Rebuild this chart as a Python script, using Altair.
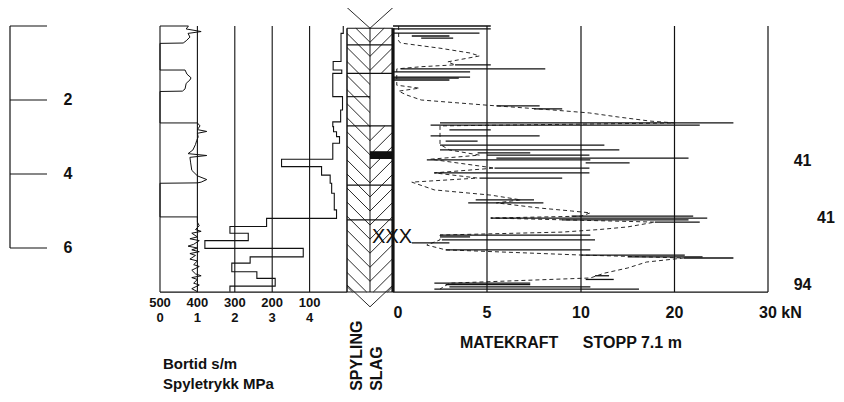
import altair as alt
import pandas as pd

FONT = "Liberation Sans"
W, H = 828, 386

# ---------------- data ----------------
depth_ticks = [0, 2, 4, 6]
depth_tick_labels = ["", "2", "4", "6"]

# Bortid (s/m), step profile: depth where each step starts, value
bortid_depth = [0.00, 0.20, 0.96, 1.19, 1.28, 1.91, 2.27, 2.59, 2.72, 2.86, 2.99, 3.17, 3.60, 3.80,
                4.03, 4.25, 4.52, 4.97, 5.20, 5.42, 5.60, 5.80, 6.01, 6.24, 6.41, 6.64, 6.82, 7.03, 7.18]
bortid_val = [10, 16, 37, 14, 38, 12, 17, 38, 36, 28, 20, 38, 175, 68,
              45, 41, 34, 28, 215, 313, 264, 380, 117, 259, 308, 241, 192, 313, 313]

# Spyletrykk (MPa)
spy_depth = [0.00, 0.00, 0.08, 0.15, 0.20, 0.30, 0.40, 0.46, 0.47,
             1.19, 1.19, 1.30, 1.40, 1.46, 1.55, 1.70, 1.76, 1.77,
             2.62, 2.62, 2.70, 2.80, 2.85, 2.90, 3.00, 3.10, 3.20, 3.35, 3.45, 3.50, 3.55, 3.70, 3.90,
             4.05, 4.15, 4.22, 4.24, 4.25,
             5.16, 5.16, 5.30, 5.40, 5.50, 5.55, 5.60, 5.70, 5.75, 5.80, 5.90, 5.95, 6.00, 6.05, 6.10,
             6.15, 6.20, 6.30, 6.35, 6.45, 6.50, 6.60, 6.70, 6.75, 6.80, 6.85, 6.95, 7.00, 7.10, 7.18]
spy_val = [0, 0.76, 0.70, 1.10, 0.75, 0.80, 0.70, 0.62, 0,
           0, 0.67, 0.72, 0.83, 0.80, 0.70, 0.67, 0.60, 0,
           0, 1.00, 1.07, 1.00, 1.25, 1.00, 1.02, 0.98, 0.95, 0.88, 0.75, 1.25, 0.80, 0.82, 0.85,
           1.00, 1.25, 1.10, 1.00, 0,
           0, 1.00, 1.00, 1.05, 0.95, 1.10, 0.85, 1.00, 0.80, 1.05, 0.90, 0.75, 1.00, 0.85, 1.05,
           0.80, 0.95, 0.80, 1.00, 0.90, 1.05, 0.85, 0.95, 1.10, 0.85, 1.00, 0.90, 1.05, 0.85, 1.00]

# Matekraft (kN): base trace and spikes
base_depth = [0.00, 0.40, 0.46, 0.60, 0.73, 0.81, 0.97, 1.05, 1.10, 1.16, 1.60, 1.68, 1.76, 1.86, 2.00,
              2.14, 2.27, 2.35, 2.46, 2.57, 2.62, 2.70, 3.20, 3.35, 3.49, 3.60, 3.84, 3.97, 4.11, 4.22,
              4.43, 4.57, 4.70, 4.78, 4.92, 5.00, 5.05, 5.14, 5.19, 5.30, 5.43, 5.50, 5.57, 5.65, 5.78,
              5.92, 6.05, 6.19, 6.27, 6.38, 6.54, 6.68, 6.81, 6.95, 7.11]
base_kn = [0.3, 0.3, 0.4, 2.5, 4.1, 4.6, 2.9, 3.3, 1.5, 0.2, 0.2, 1.4, 0.3, 0.7, 1.5,
           5.0, 8.5, 10.9, 14.0, 17.4, 20.0, 2.5, 2.5, 3.0, 4.6, 2.0, 5.4, 2.2, 4.5, 1.0,
           2.2, 5.2, 6.8, 5.5, 7.8, 9.5, 11.0, 10.0, 5.2, 17.9, 15.0, 12.0, 9.0, 2.5, 2.5,
           1.8, 2.8, 10.0, 21.0, 17.0, 15.0, 12.5, 11.0, 3.0, 2.5]

spike_depth = [0.00, 0.08, 0.19, 0.27, 0.33, 1.05, 1.16, 1.24, 1.38, 1.41, 1.46, 2.16, 2.24, 2.62, 2.68,
               2.81, 2.97, 3.11, 3.22, 3.35, 3.43, 3.49, 3.57, 3.62, 3.70, 3.84, 3.97, 4.11, 4.70, 4.78,
               5.14, 5.19, 5.24, 5.30, 5.65, 5.70, 5.78, 5.86, 6.05, 6.19, 6.24, 6.27, 6.75, 6.85, 6.95,
               6.99, 7.05, 7.11]
spike_from = [0, 0, 0, 1.0, 1.5, 3.3, 0.4, 0, 0, 0, 0, 5.5, 7.5, 2.5, 2.0,
              3.0, 2.0, 2.8, 2.5, 2.5, 4.5, 5.0, 5.5, 1.8, 10.5, 5.4, 2.2, 4.6, 4.4, 4.0,
              9.5, 5.2, 9.0, 17.9, 2.5, 2.5, 2.6, 1.0, 2.8, 10.0, 15.0, 21.0, 11.5, 10.5, 2.2,
              2.8, 3.0, 2.2]
spike_to = [5.2, 5.2, 4.6, 3.0, 3.2, 5.2, 8.1, 4.1, 4.1, 3.5, 3.0, 7.8, 9.0, 26.3, 22.7,
            5.2, 7.8, 4.5, 12.5, 14.1, 7.3, 10.9, 21.5, 11.0, 15.2, 10.9, 10.9, 9.0, 7.5, 8.0,
            22.0, 23.5, 21.5, 22.7, 11.0, 4.1, 11.5, 3.0, 11.0, 21.1, 23.0, 26.3, 13.0, 13.5, 7.3,
            7.3, 11.0, 16.2]

# Column (SPYLING / SLAG)
col_top, col_bot = 0.06, 7.19
full_layer_lines = [0.06, 0.51, 1.28, 2.70, 4.30, 5.24, 7.19]
spyling_lines = [1.91]
slag_lines = [3.40, 3.58]
slag_from = [0.06, 2.70, 3.58]
slag_to = [1.28, 3.40, 7.19]
band_from, band_to = [3.40], [3.58]

# Axis labels
bortid_ticks = [500, 400, 300, 200, 100]
spy_ticks = [0, 1, 2, 3, 4]
kn_ticks = [5, 10, 20]

blow_depth = [3.65, 5.19, 7.00]
blow_pos = [33.7, 36.2, 33.7]
blow_text = ["41", "41", "94"]

# ---------------- scales ----------------
def S(domain, rng):
    return alt.Scale(domain=domain, range=rng, zero=False, nice=False)

YS = S([0, 7.2], [18, 284.4])
BORT = S([500, 0], [152, 339])
SPY = S([0, 5], [152, 339])
COL = S([0, 2], [339, 385])
KN = S([0, 10, 30], [385, 573, 760])


def yq(f):
    return alt.Y(f"{f}:Q", scale=YS, axis=None)


def xq(f, sc):
    return alt.X(f"{f}:Q", scale=sc, axis=None)


BLACK = "#111111"
layers = []

# depth scale
layers.append(alt.Chart(pd.DataFrame({"d0": [depth_ticks[0]], "d1": [depth_ticks[-1]]}))
              .mark_rule(color=BLACK, strokeWidth=1.2)
              .encode(x=alt.value(2), y=yq("d0"), y2="d1"))
dt = pd.DataFrame({"d": depth_ticks, "t": depth_tick_labels})
layers.append(alt.Chart(dt).mark_rule(color=BLACK, strokeWidth=1.2)
              .encode(x=alt.value(2), x2=alt.value(39), y=yq("d")))
layers.append(alt.Chart(dt).mark_text(font=FONT, fontSize=16, fontWeight="bold", color=BLACK)
              .encode(x=alt.value(60), y=yq("d"), text="t:N"))

# left panel grid and border
lg = pd.DataFrame({"b": bortid_ticks, "d0": 0.0, "d1": col_bot})
layers.append(alt.Chart(lg).mark_rule(color=BLACK, strokeWidth=1.1)
              .encode(x=xq("b", BORT), y=yq("d0"), y2="d1"))
layers.append(alt.Chart(pd.DataFrame({"b0": [500], "b1": [0], "d": [col_bot]}))
              .mark_rule(color=BLACK, strokeWidth=1.2)
              .encode(x=xq("b0", BORT), x2="b1", y=yq("d")))

# bortid step line
bd = pd.DataFrame({"i": range(len(bortid_depth)), "d": bortid_depth, "b": bortid_val})
layers.append(alt.Chart(bd).mark_line(interpolate="step-before", color=BLACK, strokeWidth=1.1)
              .encode(x=xq("b", BORT), y=yq("d"), order="i:Q"))

# spyletrykk
sd = pd.DataFrame({"i": range(len(spy_depth)), "d": spy_depth, "p": spy_val})
layers.append(alt.Chart(sd).mark_line(color=BLACK, strokeWidth=1)
              .encode(x=xq("p", SPY), y=yq("d"), order="i:Q"))

# column hatch
L, STEP = 0.62, 0.38


def hatch(x_top, x_bot, top, bot):
    rows = []
    t = col_top - L
    while t < col_bot:
        s0, s1 = max(t, top), min(t + L, bot)
        if s1 > s0 + 1e-6:
            f0, f1 = (s0 - t) / L, (s1 - t) / L
            rows.append({"x": x_top + (x_bot - x_top) * f0, "d": s0,
                         "x2": x_top + (x_bot - x_top) * f1, "d2": s1})
        t += STEP
    return rows


hrows = hatch(0, 1, col_top, col_bot)
for a, b in zip(slag_from, slag_to):
    hrows += hatch(2, 1, a, b)
# chevrons above and below the column
hrows += [{"x": 0, "d": -0.5, "x2": 1, "d2": col_top}, {"x": 2, "d": -0.5, "x2": 1, "d2": col_top},
          {"x": 0, "d": 7.0, "x2": 1, "d2": 7.59}, {"x": 2, "d": 7.0, "x2": 1, "d2": 7.59}]
layers.append(alt.Chart(pd.DataFrame(hrows)).mark_rule(color=BLACK, strokeWidth=0.9)
              .encode(x=xq("x", COL), x2="x2", y=yq("d"), y2="d2"))

layers.append(alt.Chart(pd.DataFrame({"c0": [1], "c1": [2], "d0": band_from, "d1": band_to}))
              .mark_rect(color=BLACK)
              .encode(x=xq("c0", COL), x2="c1", y=yq("d0"), y2="d1"))

hl = ([{"c0": 0, "c1": 2, "d": d} for d in full_layer_lines]
      + [{"c0": 0, "c1": 1, "d": d} for d in spyling_lines]
      + [{"c0": 1, "c1": 2, "d": d} for d in slag_lines])
layers.append(alt.Chart(pd.DataFrame(hl)).mark_rule(color=BLACK, strokeWidth=1.1)
              .encode(x=xq("c0", COL), x2="c1", y=yq("d")))

ce = pd.DataFrame({"c": [0, 1, 2], "w": [1.5, 1.0, 3.2], "d0": col_top, "d1": col_bot})
layers.append(alt.Chart(ce).mark_rule(color=BLACK)
              .encode(x=xq("c", COL), y=yq("d0"), y2="d1",
                      strokeWidth=alt.StrokeWidth("w:Q", scale=None)))

layers.append(alt.Chart(pd.DataFrame({"c": [1.96], "d": [5.70], "t": ["XXX"]}))
              .mark_text(font=FONT, fontSize=20, color=BLACK)
              .encode(x=xq("c", COL), y=yq("d"), text="t:N"))

# main panel grid
mg = pd.DataFrame({"f": kn_ticks + [30], "d0": 0.0, "d1": col_bot})
layers.append(alt.Chart(mg).mark_rule(color=BLACK, strokeWidth=1.2)
              .encode(x=xq("f", KN), y=yq("d0"), y2="d1"))
layers.append(alt.Chart(pd.DataFrame({"f0": [0], "f1": [30], "d": [col_bot]}))
              .mark_rule(color=BLACK, strokeWidth=1.2)
              .encode(x=xq("f0", KN), x2="f1", y=yq("d")))

# matekraft trace
md = pd.DataFrame({"i": range(len(base_depth)), "d": base_depth, "f": base_kn})
layers.append(alt.Chart(md).mark_line(color=BLACK, strokeWidth=0.9, strokeDash=[4, 3])
              .encode(x=xq("f", KN), y=yq("d"), order="i:Q"))
sp = pd.DataFrame({"d": spike_depth, "f0": spike_from, "f1": spike_to})
layers.append(alt.Chart(sp).mark_rule(color=BLACK, strokeWidth=1.3)
              .encode(x=xq("f0", KN), x2="f1", y=yq("d")))

# tick labels
TXT = dict(font=FONT, color=BLACK, fontWeight="bold", baseline="middle")
layers.append(alt.Chart(pd.DataFrame({"v": bortid_ticks, "t": [str(v) for v in bortid_ticks], "d": 7.48}))
              .mark_text(fontSize=13, **TXT)
              .encode(x=xq("v", BORT), y=yq("d"), text="t:N"))
layers.append(alt.Chart(pd.DataFrame({"v": spy_ticks, "t": [str(v) for v in spy_ticks], "d": 7.88}))
              .mark_text(fontSize=13, **TXT)
              .encode(x=xq("v", SPY), y=yq("d"), text="t:N"))
layers.append(alt.Chart(pd.DataFrame({"v": kn_ticks, "t": [str(v) for v in kn_ticks], "d": 7.76}))
              .mark_text(fontSize=16, **TXT)
              .encode(x=xq("v", KN), y=yq("d"), text="t:N"))
layers.append(alt.Chart(pd.DataFrame({"v": [0], "t": ["0"], "d": 7.76}))
              .mark_text(fontSize=16, dx=5, **TXT)
              .encode(x=xq("v", KN), y=yq("d"), text="t:N"))
layers.append(alt.Chart(pd.DataFrame({"v": [30], "t": ["30 kN"], "d": 7.76}))
              .mark_text(fontSize=16, align="left", dx=-9, **TXT)
              .encode(x=xq("v", KN), y=yq("d"), text="t:N"))

# titles
layers.append(alt.Chart(pd.DataFrame({"v": [492, 492], "d": [9.14, 9.68], "t": ["Bortid s/m", "Spyletrykk MPa"]}))
              .mark_text(fontSize=15, align="left", **TXT)
              .encode(x=xq("v", BORT), y=yq("d"), text="t:N"))
layers.append(alt.Chart(pd.DataFrame({"v": [3.56, 10.2], "d": [8.57, 8.57], "t": ["MATEKRAFT", "STOPP 7.1 m"]}))
              .mark_text(fontSize=16, align="left", **TXT)
              .encode(x=xq("v", KN), y=yq("d"), text="t:N"))
layers.append(alt.Chart(pd.DataFrame({"c": [0.43, 1.32], "d": [9.86, 9.86], "t": ["SPYLING", "SLAG"]}))
              .mark_text(fontSize=16, align="left", angle=270, **TXT)
              .encode(x=xq("c", COL), y=yq("d"), text="t:N"))

# blow counts
layers.append(alt.Chart(pd.DataFrame({"v": blow_pos, "d": blow_depth, "t": blow_text}))
              .mark_text(fontSize=16, **TXT)
              .encode(x=xq("v", KN), y=yq("d"), text="t:N"))

chart = (alt.layer(*layers)
         .resolve_scale(x="independent")
         .properties(width=W, height=H, padding=0, autosize="none", background="white")
         .configure_view(stroke=None))

chart.save("out.html", embed_options={"renderer": "svg", "actions": False})
